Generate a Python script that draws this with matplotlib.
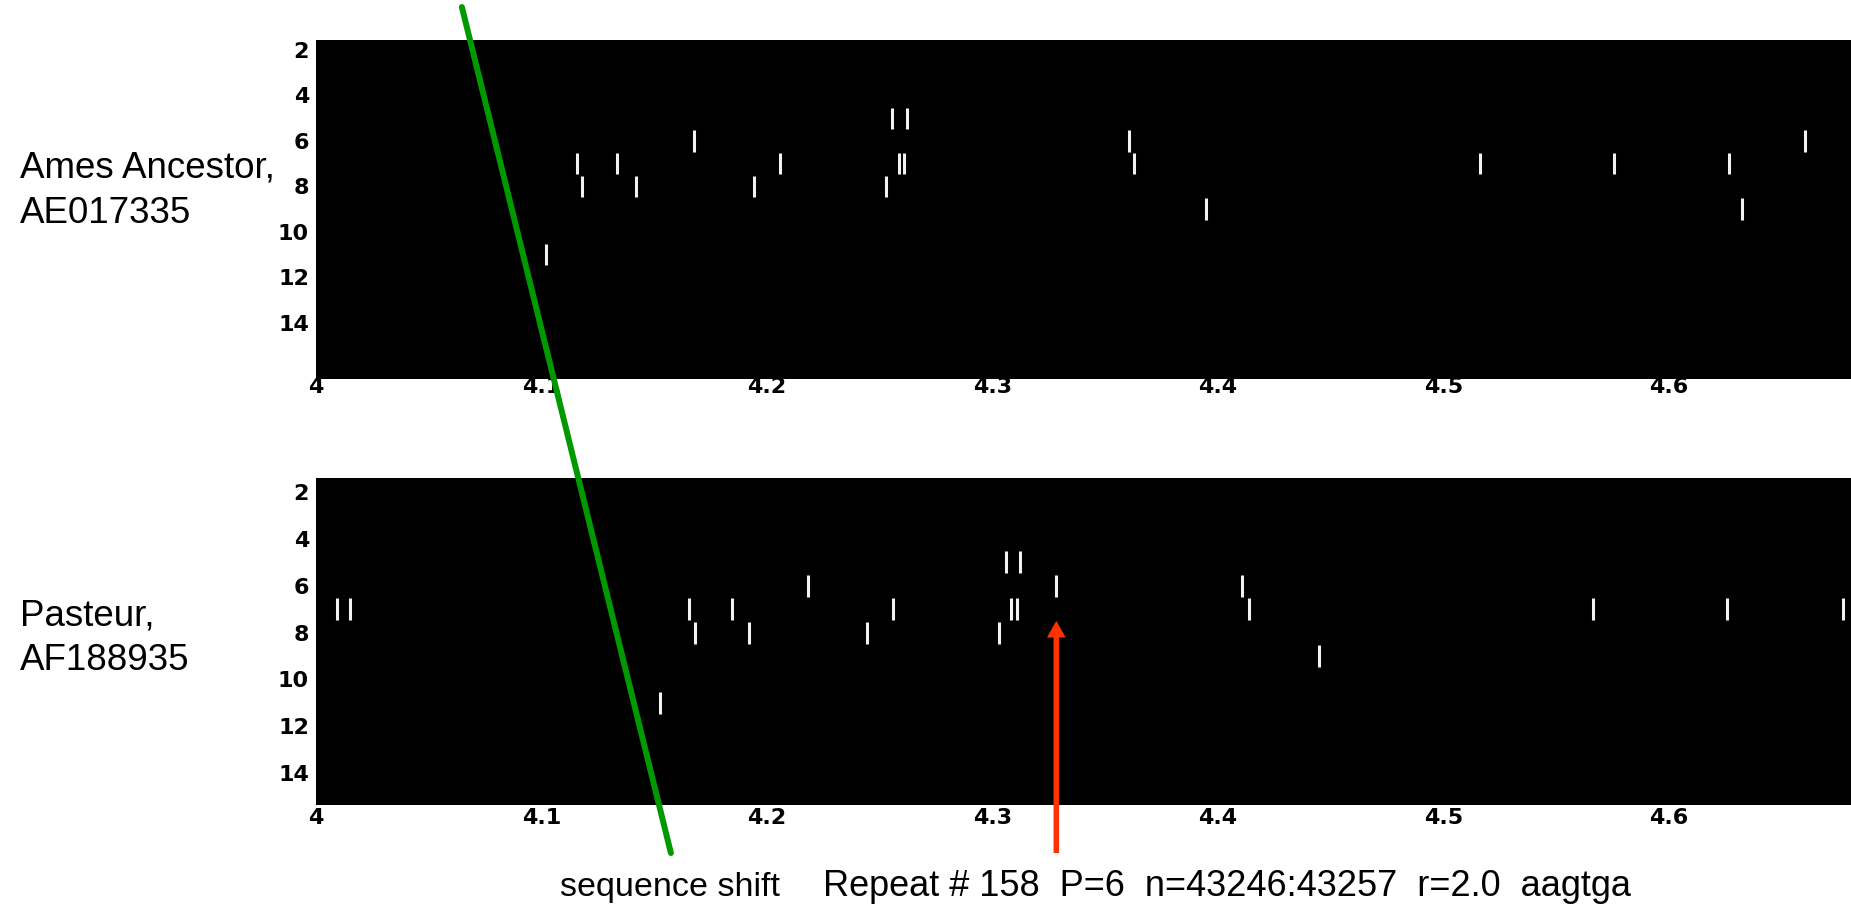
import matplotlib
matplotlib.use("Agg")
import matplotlib.pyplot as plt
from matplotlib.patches import ConnectionPatch

# ---------------- data ----------------
xticks = [4.0, 4.1, 4.2, 4.3, 4.4, 4.5, 4.6]
xtick_labels = ["4", "4.1", "4.2", "4.3", "4.4", "4.5", "4.6"]
yticks = [2, 4, 6, 8, 10, 12, 14]
ytick_labels = ["2", "4", "6", "8", "10", "12", "14"]

# repeat positions (x) and their row (period) for each genome
ames_x = [4.2555, 4.2623,
          4.1675, 4.3607, 4.6602,
          4.1157, 4.1335, 4.2058, 4.2586, 4.2607, 4.3628, 4.5162, 4.5754, 4.6267,
          4.1178, 4.1419, 4.1942, 4.2529,
          4.3948, 4.6325,
          4.1021]
ames_row = [5, 5,
            6, 6, 6,
            7, 7, 7, 7, 7, 7, 7, 7, 7,
            8, 8, 8, 8,
            9, 9,
            11]

pasteur_x = [4.3058, 4.3120,
             4.2183, 4.3283, 4.4105,
             4.0094, 4.0152, 4.1654, 4.1843, 4.2560, 4.3084, 4.3110, 4.4136, 4.5665, 4.6257, 4.6770,
             4.1681, 4.1921, 4.2445, 4.3031,
             4.4450,
             4.1524]
pasteur_row = [5, 5,
               6, 6, 6,
               7, 7, 7, 7, 7, 7, 7, 7, 7, 7, 7,
               8, 8, 8, 8,
               9,
               11]

label_top = "Ames Ancestor,\nAE017335"
label_bottom = "Pasteur,\nAF188935"
shift_text = "sequence shift"
repeat_text = "Repeat # 158  P=6  n=43246:43257  r=2.0  aagtga"
repeat_x = 4.3283         # highlighted repeat in Pasteur
repeat_row = 7.5          # arrow tip level

# ---------------- figure ----------------
fig = plt.figure(figsize=(18.51, 9.09), dpi=100)
fig.patch.set_facecolor("white")

ax1 = fig.add_axes([0.1707, 0.583, 0.8293, 0.373])
ax2 = fig.add_axes([0.1707, 0.1144, 0.8293, 0.3598])

tick_font = dict(family="DejaVu Sans", weight="bold", size=16)

for ax, xs, rows, ylim, xpad in [(ax1, ames_x, ames_row, (16.47, 1.56), -1.5),
                                 (ax2, pasteur_x, pasteur_row, (15.36, 1.40), 2.0)]:
    ax.set_facecolor("black")
    for s in ax.spines.values():
        s.set_visible(False)
    ax.vlines(xs, [r - 0.47 for r in rows], [r + 0.47 for r in rows],
              colors="#f2f2f2", linewidth=2.2)
    ax.set_xlim(4.0, 4.6807)
    ax.set_ylim(*ylim)
    ax.set_xticks(xticks)
    ax.set_xticklabels(xtick_labels, fontdict=tick_font)
    ax.set_yticks(yticks)
    ax.set_yticklabels(ytick_labels, fontdict=tick_font)
    ax.tick_params(axis="both", length=0)
    ax.tick_params(axis="x", pad=xpad)
    ax.tick_params(axis="y", pad=5)

# genome labels
fig.text(0.0108, 0.7903, label_top, family="Liberation Sans", size=26.5,
         ha="left", va="center", linespacing=1.37)
fig.text(0.0108, 0.298, label_bottom, family="Liberation Sans", size=26.5,
         ha="left", va="center", linespacing=1.37)

# green "sequence shift" line
con = ConnectionPatch(xyA=(4.0647, 0.11), coordsA=ax1.transData,
                      xyB=(4.1574, 17.41), coordsB=ax2.transData,
                      color="#009900", linewidth=4.3, zorder=10)
fig.add_artist(con)

# red arrow to highlighted repeat
ax2.annotate("", xy=(repeat_x, repeat_row), xytext=(repeat_x, 17.41),
             xycoords="data", textcoords="data", annotation_clip=False,
             arrowprops=dict(width=4, headwidth=13.5, headlength=12,
                             shrink=0, facecolor="#ff3300", edgecolor="none"),
             zorder=10)

# bottom captions
fig.text(0.3025, 0.0143, shift_text, family="Liberation Sans", size=24.5,
         ha="left", va="baseline")
fig.text(0.4446, 0.0143, repeat_text, family="Liberation Sans", size=26,
         ha="left", va="baseline")

fig.savefig("out.png", dpi=100, facecolor="white")
